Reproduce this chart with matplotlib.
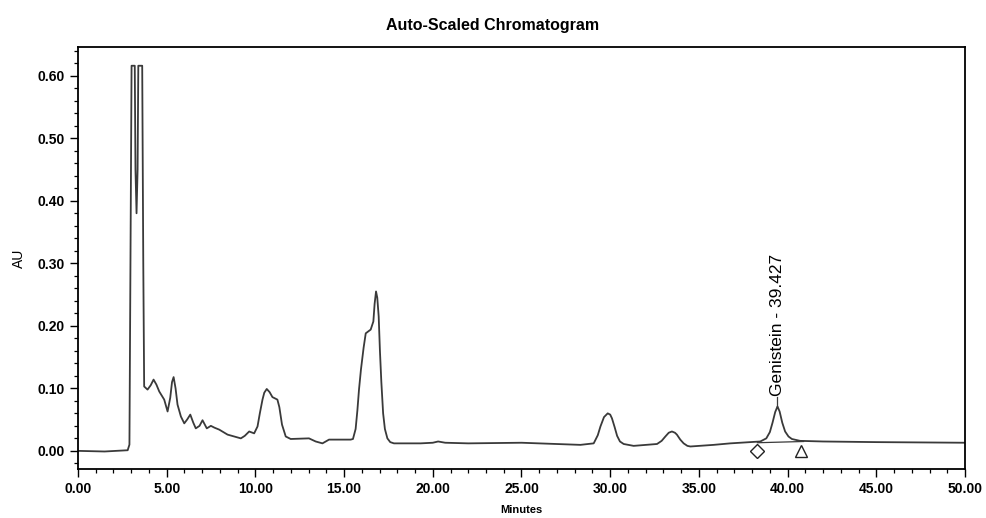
import matplotlib
matplotlib.use("Agg")
import matplotlib.pyplot as plt
from matplotlib.ticker import MultipleLocator, FormatStrFormatter

plt.rcParams['font.family'] = ['Liberation Sans', 'DejaVu Sans']

# trace (minutes, AU)
minutes = [0.0, 1.5, 2.8, 2.9, 2.97, 3.02, 3.2, 3.24, 3.3, 3.36, 3.4, 3.62, 3.68,
           3.73, 3.92, 4.1, 4.26, 4.42, 4.58, 4.86, 5.05, 5.2, 5.3, 5.39, 5.5,
           5.61, 5.8, 5.99, 6.15, 6.33, 6.5, 6.64, 6.85, 7.02, 7.26, 7.49, 7.7,
           7.96, 8.43, 8.8, 9.18, 9.4, 9.65, 9.93, 10.12, 10.25, 10.4, 10.5,
           10.64, 10.8, 10.96, 11.24, 11.35, 11.5, 11.71, 11.99, 13.02, 13.4,
           13.78, 14.15, 15.37, 15.5, 15.65, 15.75, 15.84, 15.95, 16.1, 16.22,
           16.5, 16.65, 16.72, 16.8, 16.87, 16.95, 17.02, 17.1, 17.2, 17.3,
           17.44, 17.6, 17.81, 19.31, 20.0, 20.3, 20.7, 22.0, 25.0, 28.32,
           29.07, 29.3, 29.45, 29.65, 29.86, 30.0, 30.1, 30.25, 30.39, 30.55,
           30.76, 31.32, 32.64, 32.9, 33.11, 33.3, 33.48, 33.65, 33.76, 33.95,
           34.14, 34.35, 34.52, 35.83, 36.77, 38.46, 38.8, 39.0, 39.15, 39.3,
           39.43, 39.55, 39.7, 39.86, 40.05, 40.24, 40.7, 42.0, 45.0, 50.0]
au = [0.0, -0.001, 0.001, 0.01, 0.35, 0.616, 0.616, 0.45, 0.38, 0.45, 0.616,
      0.616, 0.3, 0.103, 0.098, 0.105, 0.114, 0.106, 0.095, 0.082, 0.063,
      0.085, 0.11, 0.118, 0.1, 0.074, 0.055, 0.044, 0.05, 0.058, 0.045, 0.036,
      0.04, 0.049, 0.036, 0.04, 0.037, 0.034, 0.026, 0.023, 0.02, 0.024,
      0.031, 0.028, 0.039, 0.06, 0.082, 0.093, 0.099, 0.094, 0.086, 0.082,
      0.07, 0.042, 0.023, 0.019, 0.02, 0.015, 0.012, 0.018, 0.018, 0.019,
      0.035, 0.065, 0.098, 0.13, 0.165, 0.188, 0.194, 0.207, 0.235, 0.255,
      0.245, 0.215, 0.16, 0.11, 0.06, 0.035, 0.02, 0.014, 0.012, 0.012,
      0.013, 0.015, 0.013, 0.012, 0.013, 0.0096, 0.012, 0.025, 0.039, 0.054,
      0.06, 0.058, 0.052, 0.038, 0.024, 0.015, 0.011, 0.008, 0.011, 0.016,
      0.023, 0.029, 0.031, 0.029, 0.026, 0.018, 0.012, 0.008, 0.007, 0.0096,
      0.012, 0.015, 0.02, 0.03, 0.045, 0.062, 0.071, 0.063, 0.045, 0.031,
      0.023, 0.019, 0.016, 0.015, 0.014, 0.013]

peak_name = "Genistein"
peak_rt = 39.427
peak_au = 0.071
start_mark = (38.29, 0.0)
end_mark = (40.77, 0.0)
baseline_x = [38.3, 40.9]
baseline_y = [0.013, 0.015]

fig = plt.figure(figsize=(9.86, 5.18), dpi=100)
ax = fig.add_axes([0.0791, 0.0946, 0.8996, 0.8147])

ax.plot(minutes, au, color='#3a3a3a', lw=1.3)
ax.plot(baseline_x, baseline_y, color='#3a3a3a', lw=0.9)
ax.plot(*start_mark, marker='D', ms=7, mfc='white', mec='#222222', mew=1.0)
ax.plot(*end_mark, marker='^', ms=9, mfc='white', mec='#222222', mew=1.0)

# peak label
ax.plot([peak_rt, peak_rt], [peak_au, peak_au + 0.015], color='#3a3a3a', lw=0.9)
ax.text(peak_rt, peak_au + 0.017, f"{peak_name} - {peak_rt:.3f}", rotation=90,
        ha='center', va='bottom', fontsize=12.5)

ax.set_xlim(0, 50)
ax.set_ylim(-0.029, 0.646)
ax.xaxis.set_major_locator(MultipleLocator(5))
ax.xaxis.set_minor_locator(MultipleLocator(1))
ax.yaxis.set_major_locator(MultipleLocator(0.1))
ax.yaxis.set_minor_locator(MultipleLocator(0.02))
ax.xaxis.set_major_formatter(FormatStrFormatter('%.2f'))
ax.yaxis.set_major_formatter(FormatStrFormatter('%.2f'))
ax.tick_params(which='major', direction='out', length=6, width=1.0, labelsize=10)
ax.tick_params(which='minor', direction='out', length=3, width=0.9)
for lab in ax.get_xticklabels() + ax.get_yticklabels():
    lab.set_fontweight('bold')
for sp in ax.spines.values():
    sp.set_linewidth(1.3)

ax.set_xlabel('Minutes', fontsize=8, fontweight='bold', labelpad=6)
ax.set_ylabel('AU', fontsize=10, labelpad=8)
fig.suptitle('Auto-Scaled Chromatogram', fontsize=11.5, fontweight='bold', y=0.965)

fig.savefig('out.png', dpi=100)
